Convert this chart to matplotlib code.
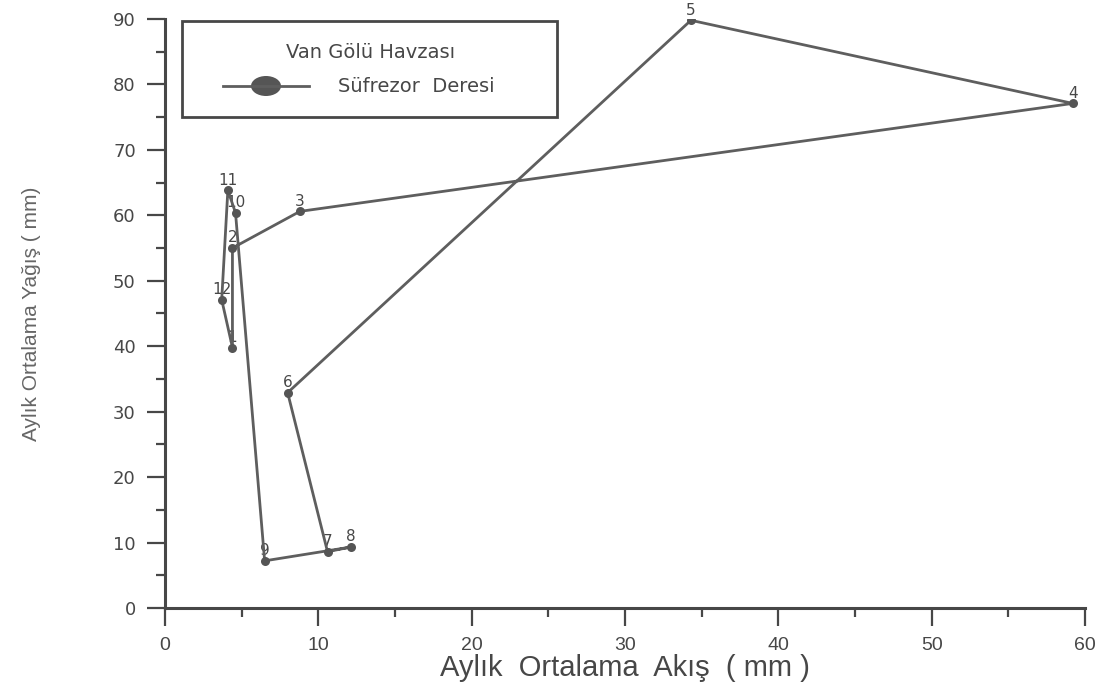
import matplotlib

matplotlib.use("Agg")
import matplotlib.pyplot as plt
from matplotlib.lines import Line2D
from matplotlib.patches import Ellipse, Rectangle

# Monthly mean runoff (x) vs monthly mean precipitation (y), months 1..12
months = ["1", "2", "3", "4", "5", "6", "7", "8", "9", "10", "11", "12"]
akis = [4.4, 4.4, 8.8, 59.2, 34.3, 8.0, 10.6, 12.1, 6.5, 4.6, 4.1, 3.7]
yagis = [39.8, 55.0, 60.6, 77.1, 89.8, 32.9, 8.6, 9.3, 7.2, 60.4, 63.8, 47.1]

x_ticks = [0, 10, 20, 30, 40, 50, 60]
y_ticks = [0, 10, 20, 30, 40, 50, 60, 70, 80, 90]

INK = "#474747"
LINE = "#5e5e5e"
WIDE = ["DejaVu Sans"]

plt.rcParams["font.family"] = ["Liberation Sans", "DejaVu Sans"]

fig = plt.figure(figsize=(11.02, 6.93), dpi=100)
ax = fig.add_axes([0.1497, 0.1227, 0.9846 - 0.1497, 0.9726 - 0.1227])

# closed annual loop: 1 -> 12 -> back to 1
xs = akis + akis[:1]
ys = yagis + yagis[:1]
ax.plot(xs, ys, color=LINE, lw=2.0, zorder=3, solid_capstyle="round")
ax.plot(akis, yagis, ls="none", marker="o", ms=6.5, color="#555555",
        markeredgewidth=0, zorder=4)
for m, x, y in zip(months, akis, yagis):
    ax.annotate(m, (x, y), xytext=(0, 2), textcoords="offset points",
                ha="center", va="bottom", fontsize=11, color=INK, zorder=2,
                family=WIDE)

ax.set_xlim(0, 60)
ax.set_ylim(0, 90)
ax.set_xticks(x_ticks)
ax.set_yticks(y_ticks)
ax.set_xticks([5, 15, 25, 35, 45, 55], minor=True)
ax.set_yticks([5, 15, 25, 35, 45, 55, 65, 75, 85], minor=True)
ax.tick_params(axis="both", which="major", length=13, width=1.6, color=INK,
               labelsize=14, labelcolor=INK, pad=8)
ax.tick_params(axis="both", which="minor", length=6.5, width=1.6, color=INK)
for lab in ax.get_yticklabels():
    lab.set_family(WIDE)
    lab.set_fontsize(13)

for side in ("top", "right"):
    ax.spines[side].set_visible(False)
for side in ("left", "bottom"):
    ax.spines[side].set_linewidth(2.2)
    ax.spines[side].set_color(INK)

ax.set_xlabel("Aylık  Ortalama  Akış  ( mm )", fontsize=21, color=INK,
              labelpad=0)
ax.set_ylabel("Aylık Ortalama Yağış ( mm)", fontsize=15, color="#666666",
              labelpad=52)

# legend box drawn in figure pixels
W, H = 1102.0, 693.0
box = Rectangle((182 / W, 1 - 117 / H), (557 - 182) / W, (117 - 21) / H,
                transform=fig.transFigure, fill=False, ec=INK, lw=2.0)
fig.patches.append(box)
fig.text(371 / W, 1 - 53 / H, "Van Gölü Havzası", ha="center", va="center",
         fontsize=14, color=INK, family=WIDE)
fig.lines.append(Line2D([223 / W, 309 / W], [1 - 86 / H, 1 - 86 / H],
                        transform=fig.transFigure, color=LINE, lw=2.0))
fig.patches.append(Ellipse((266 / W, 1 - 86 / H), 30 / W, 20 / H,
                           transform=fig.transFigure, color="#555555",
                           lw=0))
fig.text(338 / W, 1 - 86 / H, "Süfrezor  Deresi", ha="left", va="center",
         fontsize=14, color=INK, family=WIDE)

fig.savefig("out.png", dpi=100)
